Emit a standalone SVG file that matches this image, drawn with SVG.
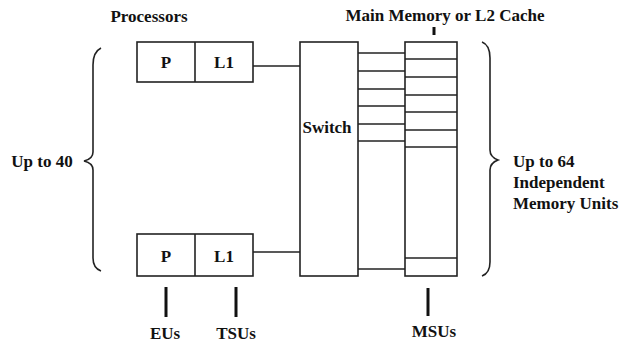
<svg xmlns="http://www.w3.org/2000/svg" width="622" height="343" viewBox="0 0 622 343">
<style>
text{font-family:"Liberation Serif","Times New Roman",serif;font-weight:bold;font-size:17px;fill:#111}
.b{fill:none;stroke:#222;stroke-width:1.6}
.l{stroke:#222;stroke-width:1.6}
.t{stroke:#111;stroke-width:3}
</style>
<rect width="622" height="343" fill="#fff"/>
<text x="149" y="22" text-anchor="middle">Processors</text>
<text x="445" y="21" text-anchor="middle">Main Memory or L2 Cache</text>
<g id="proc-top">
<rect class="b" x="137" y="42" width="116" height="40"/>
<line class="l" x1="195" y1="42" x2="195" y2="82"/>
<text x="166" y="68" text-anchor="middle">P</text>
<text x="224" y="68" text-anchor="middle">L1</text>
</g>
<g id="proc-bottom">
<rect class="b" x="137" y="234" width="116" height="42"/>
<line class="l" x1="195" y1="234" x2="195" y2="276"/>
<text x="166" y="262" text-anchor="middle">P</text>
<text x="224" y="262" text-anchor="middle">L1</text>
</g>
<g id="switch">
<rect class="b" x="300" y="42" width="58" height="234"/>
<text x="327" y="133" text-anchor="middle">Switch</text>
</g>
<g id="memory">
<rect class="b" x="405" y="42" width="52" height="234"/>
<g class="l">
<line x1="405" y1="59" x2="457" y2="59"/>
<line x1="405" y1="77" x2="457" y2="77"/>
<line x1="405" y1="95" x2="457" y2="95"/>
<line x1="405" y1="112" x2="457" y2="112"/>
<line x1="405" y1="130" x2="457" y2="130"/>
<line x1="405" y1="147" x2="457" y2="147"/>
<line x1="405" y1="258" x2="457" y2="258"/>
</g>
<line class="t" x1="434" y1="27" x2="434" y2="35"/>
</g>
<g id="connectors" class="l">
<line x1="253" y1="66" x2="300" y2="66"/>
<line x1="253" y1="252" x2="300" y2="252"/>
<line x1="358" y1="53" x2="405" y2="53"/>
<line x1="358" y1="71" x2="405" y2="71"/>
<line x1="358" y1="89" x2="405" y2="89"/>
<line x1="358" y1="106" x2="405" y2="106"/>
<line x1="358" y1="124" x2="405" y2="124"/>
<line x1="358" y1="141" x2="405" y2="141"/>
<line x1="358" y1="269" x2="405" y2="269"/>
</g>
<g id="brace-left">
<path class="b" d="M101,48 Q93,52 93,65 L93,152 Q93,159 84,161 Q93,163 93,170 L93,258 Q93,268 101,271"/>
<text x="42" y="167" text-anchor="middle">Up to 40</text>
</g>
<g id="brace-right">
<path class="b" d="M482,42 Q490,45 490,58 L490,150 Q490,157 498,160 Q490,163 490,170 L490,262 Q490,273 482,276"/>
<text x="513" y="167">Up to 64</text>
<text x="513" y="188">Independent</text>
<text x="513" y="209">Memory Units</text>
</g>
<g id="labels">
<line class="t" x1="166" y1="287" x2="166" y2="317"/>
<line class="t" x1="236" y1="287" x2="236" y2="317"/>
<line class="t" x1="428" y1="288" x2="428" y2="316"/>
<text x="165" y="339" text-anchor="middle">EUs</text>
<text x="236" y="339" text-anchor="middle">TSUs</text>
<text x="434" y="337" text-anchor="middle">MSUs</text>
</g>
</svg>
